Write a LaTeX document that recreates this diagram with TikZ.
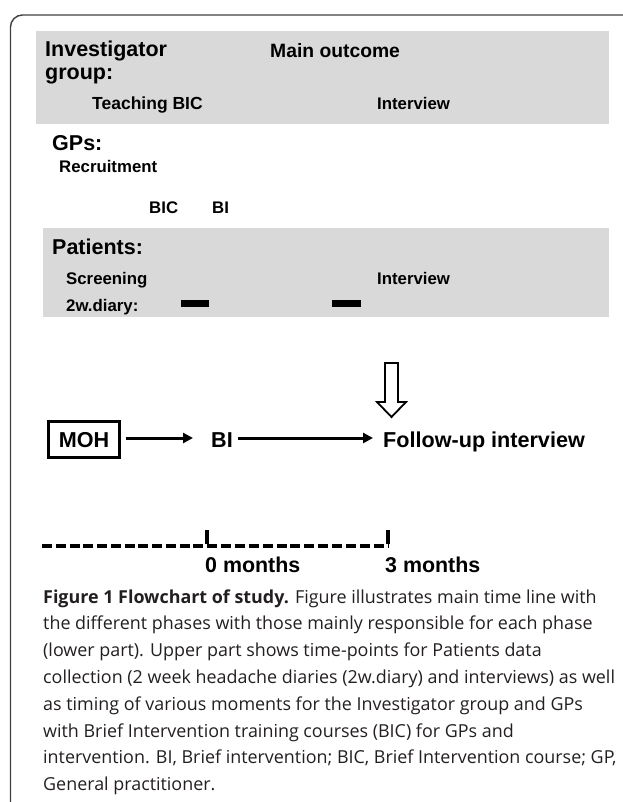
\documentclass[tikz,border=0pt]{standalone}
\usepackage{fontspec}
\setmainfont{Liberation Sans}
\newfontfamily\capfont{Open Sans}
\usetikzlibrary{arrows.meta}
\definecolor{band}{HTML}{D9D9D9}
\definecolor{framecol}{HTML}{404040}
\definecolor{captxt}{HTML}{231F20}
\tikzset{
  lbl/.style={anchor=base west, inner sep=0pt, font=\bfseries\fontsize{#1}{#1}\selectfont},
  lbl/.default=16.8,
  captionline/.style={anchor=base west, inner sep=0pt, text=captxt, font=\capfont\fontsize{17.9}{17.9}\selectfont},
  flownode/.style={anchor=west, inner sep=0pt, text height=19pt, text depth=0pt, font=\bfseries\fontsize{21.6}{21.6}\selectfont},
  flowarrow/.style={line width=3pt, -{Triangle[length=10pt,width=10pt]}},
  diarybar/.style={fill=black, inner sep=0pt, minimum width=28.5pt, minimum height=7pt},
  tline/.style={line width=3.5pt}
}
\begin{document}
\begin{tikzpicture}[x=1pt,y=-1pt]
\useasboundingbox (0,0) rectangle (622,802);
% frame
\draw[framecol, line width=1.4pt, rounded corners=12pt] (630,15) -- (10.5,15) -- (10.5,810);
% bands
\fill[band] (36,31) rectangle (609,124);
\fill[band] (43,228) rectangle (609,317);
% investigator group
\node[lbl=21.5] (inv) at (45,56.7) {Investigator};
\node[lbl=21.5] (grp) at (45,80) {group:};
\node[lbl=19.3] (mo) at (270,58) {Main outcome};
\node[lbl=17.5] (tb) at (92,110) {Teaching BIC};
\node[lbl] (iv1) at (377,110) {Interview};
% GPs
\node[lbl=21.5] (gps) at (52,151) {GPs:};
\node[lbl] (rec) at (59,173) {Recruitment};
\node[lbl] (bic) at (149,214) {BIC};
\node[lbl] (bi1) at (212,214) {BI};
% patients
\node[lbl=21.5] (pat) at (52,254) {Patients:};
\node[lbl] (scr) at (66,284.5) {Screening};
\node[lbl] (iv2) at (377,284.5) {Interview};
\node[lbl] (dia) at (66,311) {2w.diary:};
\node[diarybar] (d1) at (195,303.5) {};
\node[diarybar] (d2) at (346.5,303.5) {};
% hollow arrow
\draw[line width=1.8pt, fill=white, line join=miter] (385,363) -- (398,363) -- (398,402) -- (406,402) -- (391.5,417) -- (377,402) -- (385,402) -- cycle;
% flow row
\node[draw, line width=2.2pt, inner sep=0pt, minimum width=71pt, minimum height=36pt, text height=15.5pt, text depth=0pt, font=\bfseries\fontsize{21.6}{21.6}\selectfont] (moh) at (84,439.5) {MOH};
\node[flownode] (bi) at (211,438) {BI};
\node[flownode] (fu) at (383,438) {Follow-up interview};
\draw[flowarrow] ([xshift=5pt,yshift=1.5pt]moh.east) -- ([xshift=-18pt]bi.west);
\draw[flowarrow] ([xshift=5pt]bi.east) -- ([xshift=-10pt]fu.west);
% timeline
\coordinate (t0) at (42,546);
\coordinate (tz) at (207,546);
\coordinate (t3) at (388,546);
\draw[tline, dash pattern=on 10pt off 3.75pt] (t0) -- (tz);
\draw[tline, dash pattern=on 10pt off 3.9pt] (tz) -- (t3);
\draw[tline] ([yshift=1.75pt]tz) -- ++(0,-14);
\draw[tline] ([yshift=1.75pt]t3) -- ++(0,-14);
\node[lbl=21.4] (m0) at (205,572.5) {0 months};
\node[lbl=21.4] (m3) at (385,572.5) {3 months};
% caption
\node[captionline] (c1) at (43,603) {{\bfseries Figure 1 Flowchart of study.} Figure illustrates main time line with};
\node[captionline] (c2) at (43,629.8) {the different phases with those mainly responsible for each phase};
\node[captionline] (c3) at (43,656.6) {(lower part). Upper part shows time-points for Patients data};
\node[captionline] (c4) at (43,683.4) {collection (2 week headache diaries (2w.diary) and interviews) as well};
\node[captionline] (c5) at (43,710.2) {as timing of various moments for the Investigator group and GPs};
\node[captionline] (c6) at (43,737) {with Brief Intervention training courses (BIC) for GPs and};
\node[captionline] (c7) at (43,763.8) {intervention. BI, Brief intervention; BIC, Brief Intervention course; GP,};
\node[captionline] (c8) at (43,790.6) {General practitioner.};
\end{tikzpicture}
\end{document}
